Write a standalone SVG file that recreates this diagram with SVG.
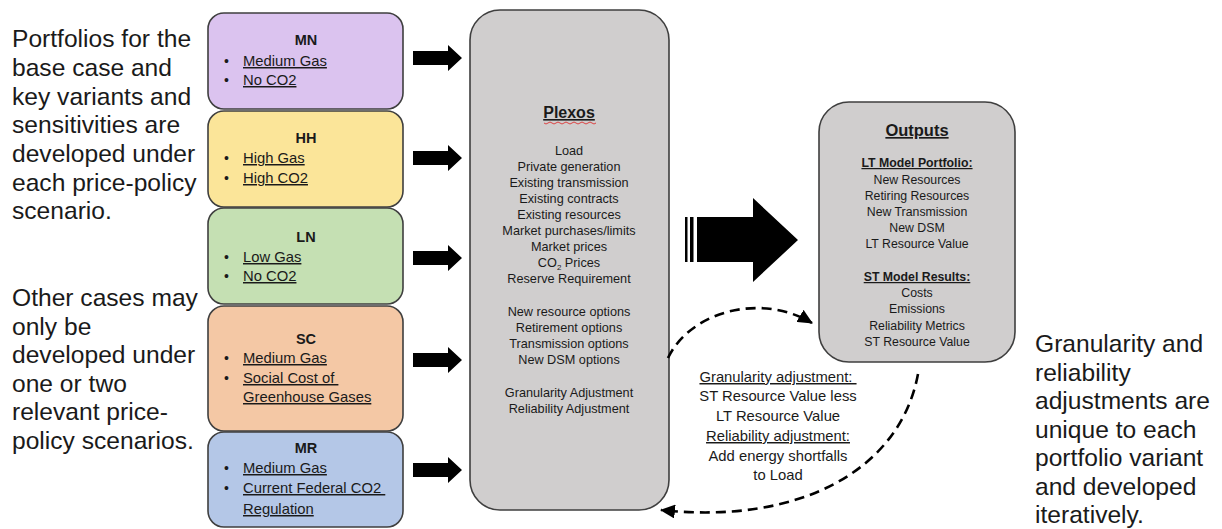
<svg xmlns="http://www.w3.org/2000/svg" width="1222" height="529" viewBox="0 0 1222 529">
<style>
.box{stroke:#3f3f3f;stroke-width:1.6}
.title{font-family:"Liberation Sans",Arial,sans-serif;font-weight:bold;font-size:14.5px;fill:#1a1a1a;text-anchor:middle}
.item{font-family:"Liberation Sans",Arial,sans-serif;font-size:14.8px;fill:#1a1a1a;text-decoration:underline}
.bul{font-family:"Liberation Sans",Arial,sans-serif;font-size:14px;fill:#1a1a1a}
.side{font-family:"Liberation Sans",Arial,sans-serif;font-size:24.6px;fill:#1a1a1a}
.px{font-family:"Liberation Sans",Arial,sans-serif;font-size:12.7px;fill:#1a1a1a;text-anchor:middle}
.ox{font-family:"Liberation Sans",Arial,sans-serif;font-size:12.3px;fill:#1a1a1a;text-anchor:middle}
.hd{font-weight:bold;text-decoration:underline}
.mid{font-family:"Liberation Sans",Arial,sans-serif;font-size:14.8px;fill:#1a1a1a;text-anchor:middle}
.dash{fill:none;stroke:#000;stroke-width:2.6;stroke-dasharray:10 6}
</style>
<defs>
<marker id="ah" markerUnits="userSpaceOnUse" markerWidth="16" markerHeight="14" refX="14" refY="7" orient="auto">
<path d="M0,0 L15,7 L0,14 Z" fill="#000"/>
</marker>
<path id="sa" d="M0,-7 L35,-7 L35,-13 L49,0 L35,13 L35,7 L0,7 Z" fill="#000"/>
</defs>

<g id="left-text" class="side">
<text x="12" y="47">Portfolios for the</text>
<text x="12" y="76">base case and</text>
<text x="12" y="104.5">key variants and</text>
<text x="12" y="133">sensitivities are</text>
<text x="12" y="162">developed under</text>
<text x="12" y="190.5">each price-policy</text>
<text x="12" y="219">scenario.</text>
<text x="12" y="306">Other cases may</text>
<text x="12" y="334.5">only be</text>
<text x="12" y="363">developed under</text>
<text x="12" y="391.5">one or two</text>
<text x="12" y="420">relevant price-</text>
<text x="12" y="448.5">policy scenarios.</text>
</g>

<g id="right-text" class="side">
<text x="1035" y="352">Granularity and</text>
<text x="1035" y="380.5">reliability</text>
<text x="1035" y="409">adjustments are</text>
<text x="1035" y="437.5">unique to each</text>
<text x="1035" y="466">portfolio variant</text>
<text x="1035" y="494.5">and developed</text>
<text x="1035" y="523">iteratively.</text>
</g>

<g id="node-MN">
<rect class="box" x="208" y="13" width="195" height="96" rx="16" fill="#dbc3ef"/>
<text class="title" x="306" y="45">MN</text>
<text class="bul" x="224" y="66">•</text><text class="item" x="243" y="66">Medium Gas</text>
<text class="bul" x="224" y="85">•</text><text class="item" x="243" y="85">No CO2</text>
</g>
<g id="node-HH">
<rect class="box" x="208" y="111" width="195" height="96" rx="16" fill="#fbe599"/>
<text class="title" x="306" y="143">HH</text>
<text class="bul" x="224" y="163">•</text><text class="item" x="243" y="163">High Gas</text>
<text class="bul" x="224" y="183">•</text><text class="item" x="243" y="183">High CO2</text>
</g>
<g id="node-LN">
<rect class="box" x="208" y="208" width="195" height="96" rx="16" fill="#c5e0b3"/>
<text class="title" x="306" y="242">LN</text>
<text class="bul" x="224" y="262">•</text><text class="item" x="243" y="262">Low Gas</text>
<text class="bul" x="224" y="281">•</text><text class="item" x="243" y="281">No CO2</text>
</g>
<g id="node-SC">
<rect class="box" x="208" y="306" width="195" height="125" rx="16" fill="#f4c8a5"/>
<text class="title" x="306" y="344">SC</text>
<text class="bul" x="224" y="363">•</text><text class="item" x="243" y="363">Medium Gas</text>
<text class="bul" x="224" y="383">•</text><text class="item" x="243" y="383">Social Cost of&#160;</text>
<text class="item" x="243" y="402">Greenhouse Gases</text>
</g>
<g id="node-MR">
<rect class="box" x="208" y="432" width="195" height="95" rx="16" fill="#b4c7e7"/>
<text class="title" x="306" y="453">MR</text>
<text class="bul" x="224" y="473">•</text><text class="item" x="243" y="473">Medium Gas</text>
<text class="bul" x="224" y="493">•</text><text class="item" x="243" y="493">Current Federal CO2&#160;</text>
<text class="item" x="243" y="514">Regulation</text>
</g>

<g id="node-Plexos">
<rect class="box" x="470" y="10" width="199" height="500" rx="30" fill="#d0cece"/>
<text class="px hd" x="569" y="118" style="font-size:16px">Plexos</text>
<path d="M544,123 q2,2 4,0 t4,0 t4,0 t4,0 t4,0 t4,0 t4,0 t4,0 t4,0 t4,0 t4,0 t4,0 t4,0" fill="none" stroke="#d33" stroke-width="0.9"/>
<text class="px" x="569" y="155">Load</text>
<text class="px" x="569" y="171">Private generation</text>
<text class="px" x="569" y="187">Existing transmission</text>
<text class="px" x="569" y="203">Existing contracts</text>
<text class="px" x="569" y="219">Existing resources</text>
<text class="px" x="569" y="235">Market purchases/limits</text>
<text class="px" x="569" y="251">Market prices</text>
<text class="px" x="569" y="267">CO<tspan font-size="8" dy="3">2</tspan><tspan dy="-3"> Prices</tspan></text>
<text class="px" x="569" y="283">Reserve Requirement</text>
<text class="px" x="569" y="316">New resource options</text>
<text class="px" x="569" y="332">Retirement options</text>
<text class="px" x="569" y="348">Transmission options</text>
<text class="px" x="569" y="364">New DSM options</text>
<text class="px" x="569" y="397">Granularity Adjustment</text>
<text class="px" x="569" y="413">Reliability Adjustment</text>
</g>

<g id="node-Outputs">
<rect class="box" x="819" y="102" width="196" height="260" rx="30" fill="#d0cece"/>
<text class="ox hd" x="917" y="136" style="font-size:16.5px">Outputs</text>
<text class="ox hd" x="917" y="167">LT Model Portfolio:</text>
<text class="ox" x="917" y="184">New Resources</text>
<text class="ox" x="917" y="200">Retiring Resources</text>
<text class="ox" x="917" y="216">New Transmission</text>
<text class="ox" x="917" y="232">New DSM</text>
<text class="ox" x="917" y="248">LT Resource Value</text>
<text class="ox hd" x="917" y="281">ST Model Results:</text>
<text class="ox" x="917" y="297">Costs</text>
<text class="ox" x="917" y="313">Emissions</text>
<text class="ox" x="917" y="330">Reliability Metrics</text>
<text class="ox" x="917" y="346">ST Resource Value</text>
</g>

<g id="adjust-label" class="mid">
<text x="778" y="382" text-decoration="underline">Granularity adjustment:&#160;</text>
<text x="778" y="401">ST Resource Value less</text>
<text x="778" y="421">LT Resource Value</text>
<text x="778" y="441" text-decoration="underline">Reliability adjustment:</text>
<text x="778" y="461">Add energy shortfalls</text>
<text x="778" y="480">to Load</text>
</g>

<g id="connectors">
<use href="#sa" x="413" y="58"/>
<use href="#sa" x="413" y="158"/>
<use href="#sa" x="413" y="258"/>
<use href="#sa" x="413" y="360"/>
<use href="#sa" x="413" y="470"/>
<rect x="685" y="217" width="2.5" height="45" fill="#000"/>
<rect x="690" y="217" width="3.5" height="45" fill="#000"/>
<path d="M697,217 L753,217 L753,198 L798,240 L753,282 L753,262 L697,262 Z" fill="#000"/>
<path class="dash" d="M668,358 C690,312 760,292 812,323" marker-end="url(#ah)"/>
<path class="dash" d="M918,374 C900,470 800,525 661,510" marker-end="url(#ah)"/>
</g>
</svg>
